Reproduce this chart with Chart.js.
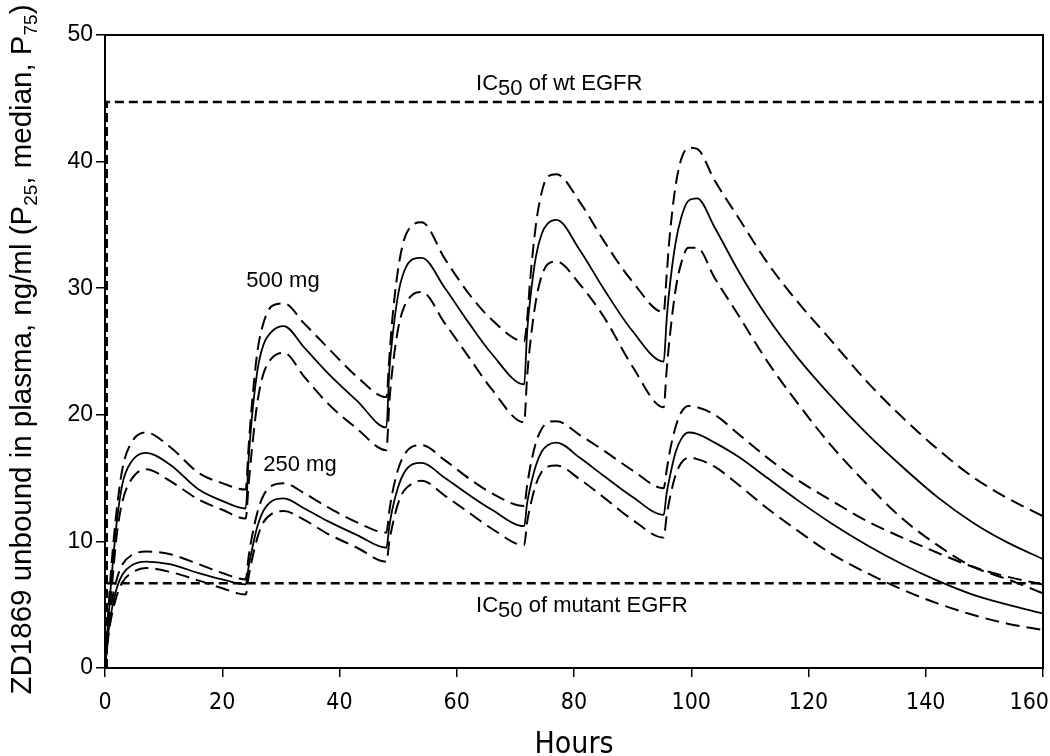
<!DOCTYPE html>
<html>
<head>
<meta charset="utf-8">
<script src="https://cdn.jsdelivr.net/npm/chart.js@4.4.1/dist/chart.umd.min.js"></script>
<style>
  body { margin: 0; background: #fff; }
  #wrap { width: 1050px; height: 756px; position: relative; }
</style>
</head>
<body>
<div id="wrap"><canvas id="pkChart"></canvas></div>
<script>
// time grid (hours) shared by all six curves
const hours = [
    0, 0.5, 1, 2, 3, 4.5, 7, 11, 16, 20, 24,
    24.5, 25, 26, 27, 28.5, 30.5, 34, 38, 43, 48,
    48.5, 49, 50, 51, 52.5, 54, 58, 62, 66, 71.5,
    72, 72.5, 73.5, 74.5, 75.5, 77, 81, 85, 90, 95.3,
    95.8, 96.3, 97.3, 98.3, 99.5, 101, 104, 108, 113, 118, 124, 130, 136, 142, 148, 154, 160
];

// 500 mg
const p75_500 = [
    0, 4.0, 7.5, 12.5, 15.8, 17.8, 18.6, 17.5, 15.4, 14.6, 14.1,
    17.5, 20.5, 25.0, 27.2, 28.6, 28.8, 27.2, 25.3, 23.0, 21.4,
    24.5, 27.5, 31.5, 33.8, 35.0, 35.2, 32.3, 29.6, 27.5, 25.8,
    27.5, 30.5, 35.0, 37.6, 38.8, 39.0, 36.8, 33.8, 30.5, 28.1,
    31.0, 34.0, 38.0, 40.2, 41.1, 41.0, 38.5, 35.6, 32.0, 29.0, 25.8, 22.6, 19.8, 17.3, 15.1, 13.4, 12.0
];
const median500 = [
    0, 3.5, 6.5, 11.5, 14.6, 16.3, 17.0, 16.1, 14.1, 13.2, 12.6,
    16.5, 19.5, 23.5, 25.5, 26.6, 27.0, 25.3, 23.3, 21.1, 19.0,
    23.5, 26.0, 29.5, 31.3, 32.3, 32.4, 30.0, 27.3, 24.8, 22.4,
    26.5, 29.0, 32.5, 34.3, 35.1, 35.4, 33.0, 30.0, 26.6, 24.2,
    27.5, 30.0, 33.5, 35.6, 36.9, 37.1, 34.8, 31.4, 27.7, 24.6, 21.4, 18.5, 15.9, 13.5, 11.5, 9.9, 8.6
];
const p25_500 = [
    0, 3.0, 5.5, 10.5, 13.2, 14.9, 15.7, 14.8, 13.3, 12.5, 11.8,
    14.5, 17.0, 21.0, 23.2, 24.5, 24.9, 23.0, 20.9, 18.9, 17.2,
    21.0, 23.5, 26.8, 28.5, 29.5, 29.7, 27.2, 24.6, 22.0, 19.4,
    23.0, 25.5, 29.0, 31.0, 31.9, 32.1, 30.3, 27.8, 23.8, 20.6,
    23.5, 26.0, 29.8, 32.0, 33.2, 33.2, 30.8, 27.9, 24.2, 21.0, 17.5, 14.5, 11.8, 9.7, 8.0, 7.0, 5.9
];

// 250 mg
const p75_250 = [
    0, 2.8, 4.8, 7.0, 8.2, 8.9, 9.2, 9.0, 8.2, 7.5, 7.0,
    8.8, 10.2, 12.3, 13.6, 14.4, 14.6, 13.8, 12.7, 11.5, 10.7,
    12.4, 13.8, 15.7, 16.8, 17.5, 17.6, 16.4, 15.0, 13.8, 12.8,
    14.4, 15.8, 17.8, 18.9, 19.4, 19.5, 18.4, 17.2, 15.6, 14.2,
    15.6, 17.0, 19.0, 20.2, 20.7, 20.6, 20.0, 18.5, 16.6, 14.9, 13.2, 11.6, 10.3, 9.1, 8.0, 7.2, 6.6
];
const median250 = [
    0, 2.5, 4.2, 6.3, 7.4, 8.1, 8.4, 8.2, 7.5, 7.0, 6.6,
    8.0, 9.2, 11.2, 12.4, 13.2, 13.4, 12.6, 11.6, 10.5, 9.5,
    11.2, 12.5, 14.3, 15.4, 16.1, 16.2, 15.0, 13.7, 12.5, 11.2,
    13.0, 14.2, 16.0, 17.1, 17.6, 17.8, 16.6, 15.2, 13.5, 12.1,
    13.8, 15.0, 17.0, 18.1, 18.6, 18.5, 17.8, 16.7, 15.0, 13.3, 11.4, 9.7, 8.2, 6.9, 5.8, 5.0, 4.3
];
const p25_250 = [
    0, 2.2, 3.8, 5.7, 6.8, 7.5, 7.9, 7.6, 6.9, 6.3, 5.8,
    7.2, 8.4, 10.3, 11.5, 12.2, 12.4, 11.7, 10.6, 9.5, 8.4,
    10.0, 11.2, 13.0, 14.0, 14.6, 14.8, 13.6, 12.3, 11.0, 9.7,
    11.5, 12.7, 14.5, 15.5, 15.9, 16.0, 14.9, 13.5, 11.7, 10.3,
    12.0, 13.3, 15.2, 16.2, 16.6, 16.5, 15.9, 14.5, 12.6, 10.9, 9.0, 7.5, 6.2, 5.1, 4.2, 3.5, 3.0
];

// IC50 reference levels (ng/ml)
const icWt = 44.7;
const icMutant = 6.7;

function pts(vals) {
    return hours.map((h, i) => ({ x: h, y: vals[i] }));
}

function curve(label, vals, dashed) {
    return {
        label: label,
        data: pts(vals),
        borderColor: '#000',
        borderWidth: dashed ? 2 : 1.8,
        borderDash: dashed ? [14, 7] : [],
        pointRadius: 0,
        cubicInterpolationMode: 'monotone',
        fill: false
    };
}

function refLine(label, level, fromZero) {
    let d = [{ x: 0.3, y: level }, { x: 160, y: level }];
    if (fromZero) d.unshift({ x: 0.3, y: 0 });
    return {
        label: label,
        data: d,
        borderColor: '#000',
        borderWidth: 2.5,
        borderDash: [9, 5],
        pointRadius: 0,
        tension: 0,
        fill: false
    };
}

// draws a run of text pieces, some lowered like subscripts
function richWidth(ctx, parts, family) {
    let w = 0;
    parts.forEach(p => {
        ctx.font = p[1] + 'px ' + family;
        w += ctx.measureText(p[0]).width;
    });
    return w;
}
function drawRich(ctx, parts, x, y, family) {
    parts.forEach(p => {
        ctx.font = p[1] + 'px ' + family;
        ctx.fillText(p[0], x, y + p[2]);
        x += ctx.measureText(p[0]).width;
    });
}

const SANS = '"Liberation Sans", Arial, sans-serif';
const NARROW = '"Liberation Sans Narrow", "DejaVu Sans Condensed", "Liberation Sans", sans-serif';

const textPlugin = {
    id: 'texts',
    afterDraw(chart) {
        const ctx = chart.ctx;
        const area = chart.chartArea;
        const x = chart.scales.x, y = chart.scales.y;
        ctx.save();

        // frame
        ctx.strokeStyle = '#000';
        ctx.lineWidth = 2;
        ctx.strokeRect(area.left, area.top, area.right - area.left, area.bottom - area.top);

        ctx.fillStyle = '#000';
        ctx.textBaseline = 'alphabetic';
        ctx.textAlign = 'left';

        // x tick labels, kept inside the canvas at the right end
        ctx.font = '23px ' + NARROW;
        ctx.textAlign = 'center';
        x.ticks.forEach((t, i) => {
            const lbl = String(t.value);
            const half = ctx.measureText(lbl).width / 2;
            let px = x.getPixelForTick(i);
            px = Math.min(px, chart.width - half - 1);
            ctx.fillText(lbl, px, area.bottom + 41);
        });
        ctx.textAlign = 'left';

        // IC50 labels
        drawRich(ctx, [['IC', 22, 0], ['50', 22, 5], [' of wt EGFR', 22, 0]],
            x.getPixelForValue(63.3), y.getPixelForValue(icWt) - 12, SANS);
        drawRich(ctx, [['IC', 22, 0], ['50', 22, 5], [' of mutant EGFR', 22, 0]],
            x.getPixelForValue(63.3), y.getPixelForValue(icMutant) + 29, SANS);

        // dose labels
        ctx.font = '22px ' + SANS;
        ctx.fillText('500 mg', x.getPixelForValue(24.1), y.getPixelForValue(30.1));
        ctx.fillText('250 mg', x.getPixelForValue(27.0), y.getPixelForValue(15.6));

        // x title
        ctx.textAlign = 'center';
        ctx.font = '30px ' + NARROW;
        ctx.fillText('Hours', (area.left + area.right) / 2, 753);

        // y title, rotated
        const parts = [
            ['ZD1869 unbound in plasma, ng/ml (P', 29.5, 0],
            ['25', 19, 6],
            [', median, P', 29.5, 0],
            ['75', 19, 6],
            [')', 29.5, 0]
        ];
        ctx.textAlign = 'left';
        const w = richWidth(ctx, parts, SANS);
        ctx.translate(31, (area.top + area.bottom) / 2 - 2);
        ctx.rotate(-Math.PI / 2);
        drawRich(ctx, parts, -w / 2, 0, SANS);

        ctx.restore();
    }
};

let pkChart = new Chart(document.getElementById('pkChart').getContext('2d'),
{
    type: 'line',
    data:
    {
        datasets:
        [
            refLine('IC50 of wt EGFR', icWt, true),
            refLine('IC50 of mutant EGFR', icMutant, false),
            curve('500 mg P75', p75_500, true),
            curve('500 mg median', median500, false),
            curve('500 mg P25', p25_500, true),
            curve('250 mg P75', p75_250, true),
            curve('250 mg median', median250, false),
            curve('250 mg P25', p25_250, true)
        ]
    },
    options:
    {
        responsive: true,
        maintainAspectRatio: false,
        animation: false,
        devicePixelRatio: 1,
        layout: { padding: { top: 35, right: 7, left: 0, bottom: 0 } },
        plugins:
        {
            legend: { display: false },
            tooltip: { enabled: false }
        },
        scales:
        {
            x:
            {
                type: 'linear',
                min: 0,
                max: 160,
                ticks: { stepSize: 20, color: 'rgba(0,0,0,0)', padding: 10, font: { family: NARROW, size: 23 } },
                grid: { drawOnChartArea: false, drawTicks: true, tickLength: 9, color: '#000', lineWidth: 1.5 },
                border: { display: true, color: '#000', width: 2 },
                afterFit: s => { s.height = 88; s.paddingRight = 0; s.paddingLeft = 0; }
            },
            y:
            {
                min: 0,
                max: 50,
                ticks: { stepSize: 10, color: '#000', padding: 3, font: { family: SANS, size: 23 } },
                grid: { drawOnChartArea: false, drawTicks: true, tickLength: 9, color: '#000', lineWidth: 1.5 },
                border: { display: true, color: '#000', width: 2 },
                afterFit: s => { s.width = 105; s.paddingTop = 0; s.paddingBottom = 0; }
            }
        }
    },
    plugins: [textPlugin]
});
</script>
</body>
</html>
